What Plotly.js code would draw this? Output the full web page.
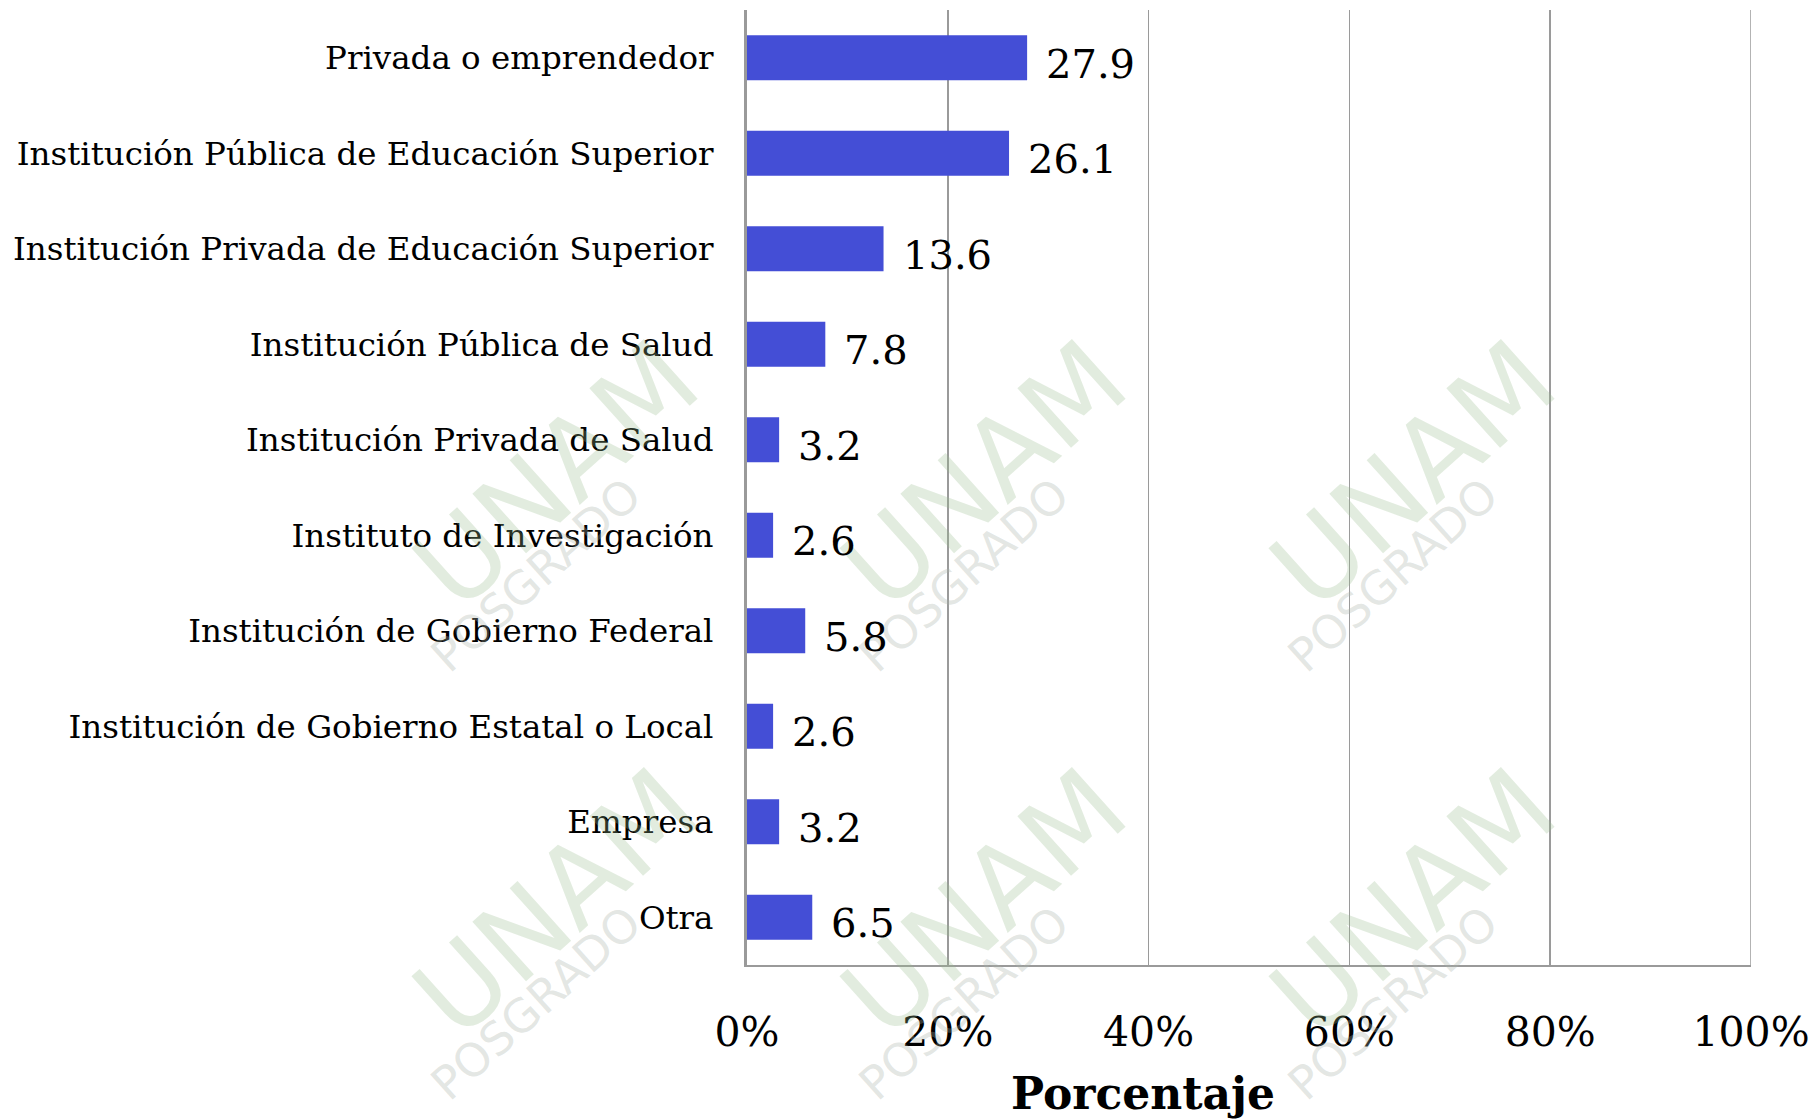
<!DOCTYPE html>
<html>
<head>
<meta charset="utf-8">
<script src="https://cdn.plot.ly/plotly-3.0.1.min.js"></script>
<style>html,body{margin:0;padding:0;background:#fff;}#chart{width:1816px;height:1120px;}</style>
</head>
<body>
<div id="chart"></div>
<script>
// Data (top to bottom as in the reference)
const categories = [
  "Privada o emprendedor",
  "Institución Pública de Educación Superior",
  "Institución Privada de Educación Superior",
  "Institución Pública de Salud",
  "Institución Privada de Salud",
  "Instituto de Investigación",
  "Institución de Gobierno Federal",
  "Institución de Gobierno Estatal o Local",
  "Empresa",
  "Otra"
];
const values = [27.9, 26.1, 13.6, 7.8, 3.2, 2.6, 5.8, 2.6, 3.2, 6.5];
const tickValues = [0, 20, 40, 60, 80, 100];
const tickLabels = ["0%", "20%", "40%", "60%", "80%", "100%"];
const axisTitle = "Porcentaje";

const W = 1816, H = 1120;
const M = {l: 747, r: 65, t: 10, b: 155};
const FONT = "DejaVu Serif, Georgia, serif";

const trace = {
  type: "bar",
  orientation: "h",
  x: values,
  y: categories,
  marker: {color: "#444ED6", line: {width: 0}},
  hoverinfo: "none",
  width: 0.47
};

const pw = W - M.l - M.r, ph = H - M.t - M.b;
const annotations = [];

// faint watermark tiles (background decoration), only those fully on the canvas
const tileX = [556, 984, 1413];
const tileY = [475, 903];
tileY.forEach(py => tileX.forEach(px => {
  annotations.push({
    xref: "paper", yref: "paper",
    x: (px - M.l) / pw, y: (H - M.b - py) / ph,
    text: "UNAM", showarrow: false, textangle: -42,
    font: {family: "DejaVu Sans", size: 110, color: "rgba(150,185,140,0.28)"},
    xanchor: "center", yanchor: "middle"
  });
  annotations.push({
    xref: "paper", yref: "paper",
    x: (px - 20 - M.l) / pw, y: (H - M.b - (py + 100)) / ph,
    text: "POSGRADO", showarrow: false, textangle: -42,
    font: {family: "DejaVu Sans", size: 46, color: "rgba(170,180,170,0.32)"},
    xanchor: "center", yanchor: "middle"
  });
}));

// value labels
values.forEach((v, i) => annotations.push({
  x: v, y: categories[i], xref: "x", yref: "y",
  text: v.toFixed(1), showarrow: false,
  xanchor: "left", yanchor: "middle", xshift: 17, yshift: -6,
  font: {family: FONT, size: 40, color: "#000"}
}));

// axis title
annotations.push({
  xref: "paper", yref: "paper",
  x: (1143 - M.l) / pw, y: (H - M.b - 1093) / ph,
  text: "<b>" + axisTitle + "</b>", showarrow: false,
  xanchor: "center", yanchor: "middle",
  font: {family: FONT, size: 44, color: "#000"}
});

const layout = {
  width: W, height: H,
  margin: M,
  paper_bgcolor: "#fff",
  plot_bgcolor: "rgba(0,0,0,0)",
  showlegend: false,
  bargap: 0.53,
  xaxis: {
    range: [0, 100],
    tickvals: tickValues,
    ticktext: tickLabels,
    showgrid: true,
    gridcolor: "#9a9a9a",
    gridwidth: 1.5,
    zeroline: false,
    showline: true,
    linecolor: "#9a9a9a",
    linewidth: 2,
    ticks: "",
    ticklabelstandoff: 30,
    tickfont: {family: FONT, size: 41, color: "#000"},
    fixedrange: true
  },
  yaxis: {
    type: "category",
    autorange: "reversed",
    showgrid: false,
    zeroline: false,
    showline: true,
    linecolor: "#9a9a9a",
    linewidth: 3,
    ticks: "",
    ticklabelstandoff: 24,
    tickfont: {family: FONT, size: 32.5, color: "#000"},
    fixedrange: true
  },
  shapes: [{
    type: "line", xref: "x", yref: "paper",
    x0: tickValues[tickValues.length - 1], x1: tickValues[tickValues.length - 1],
    y0: 0, y1: 1,
    line: {color: "#9a9a9a", width: 1.5}
  }],
  annotations: annotations
};

Plotly.newPlot("chart", [trace], layout, {displayModeBar: false, staticPlot: true});
</script>
</body>
</html>
